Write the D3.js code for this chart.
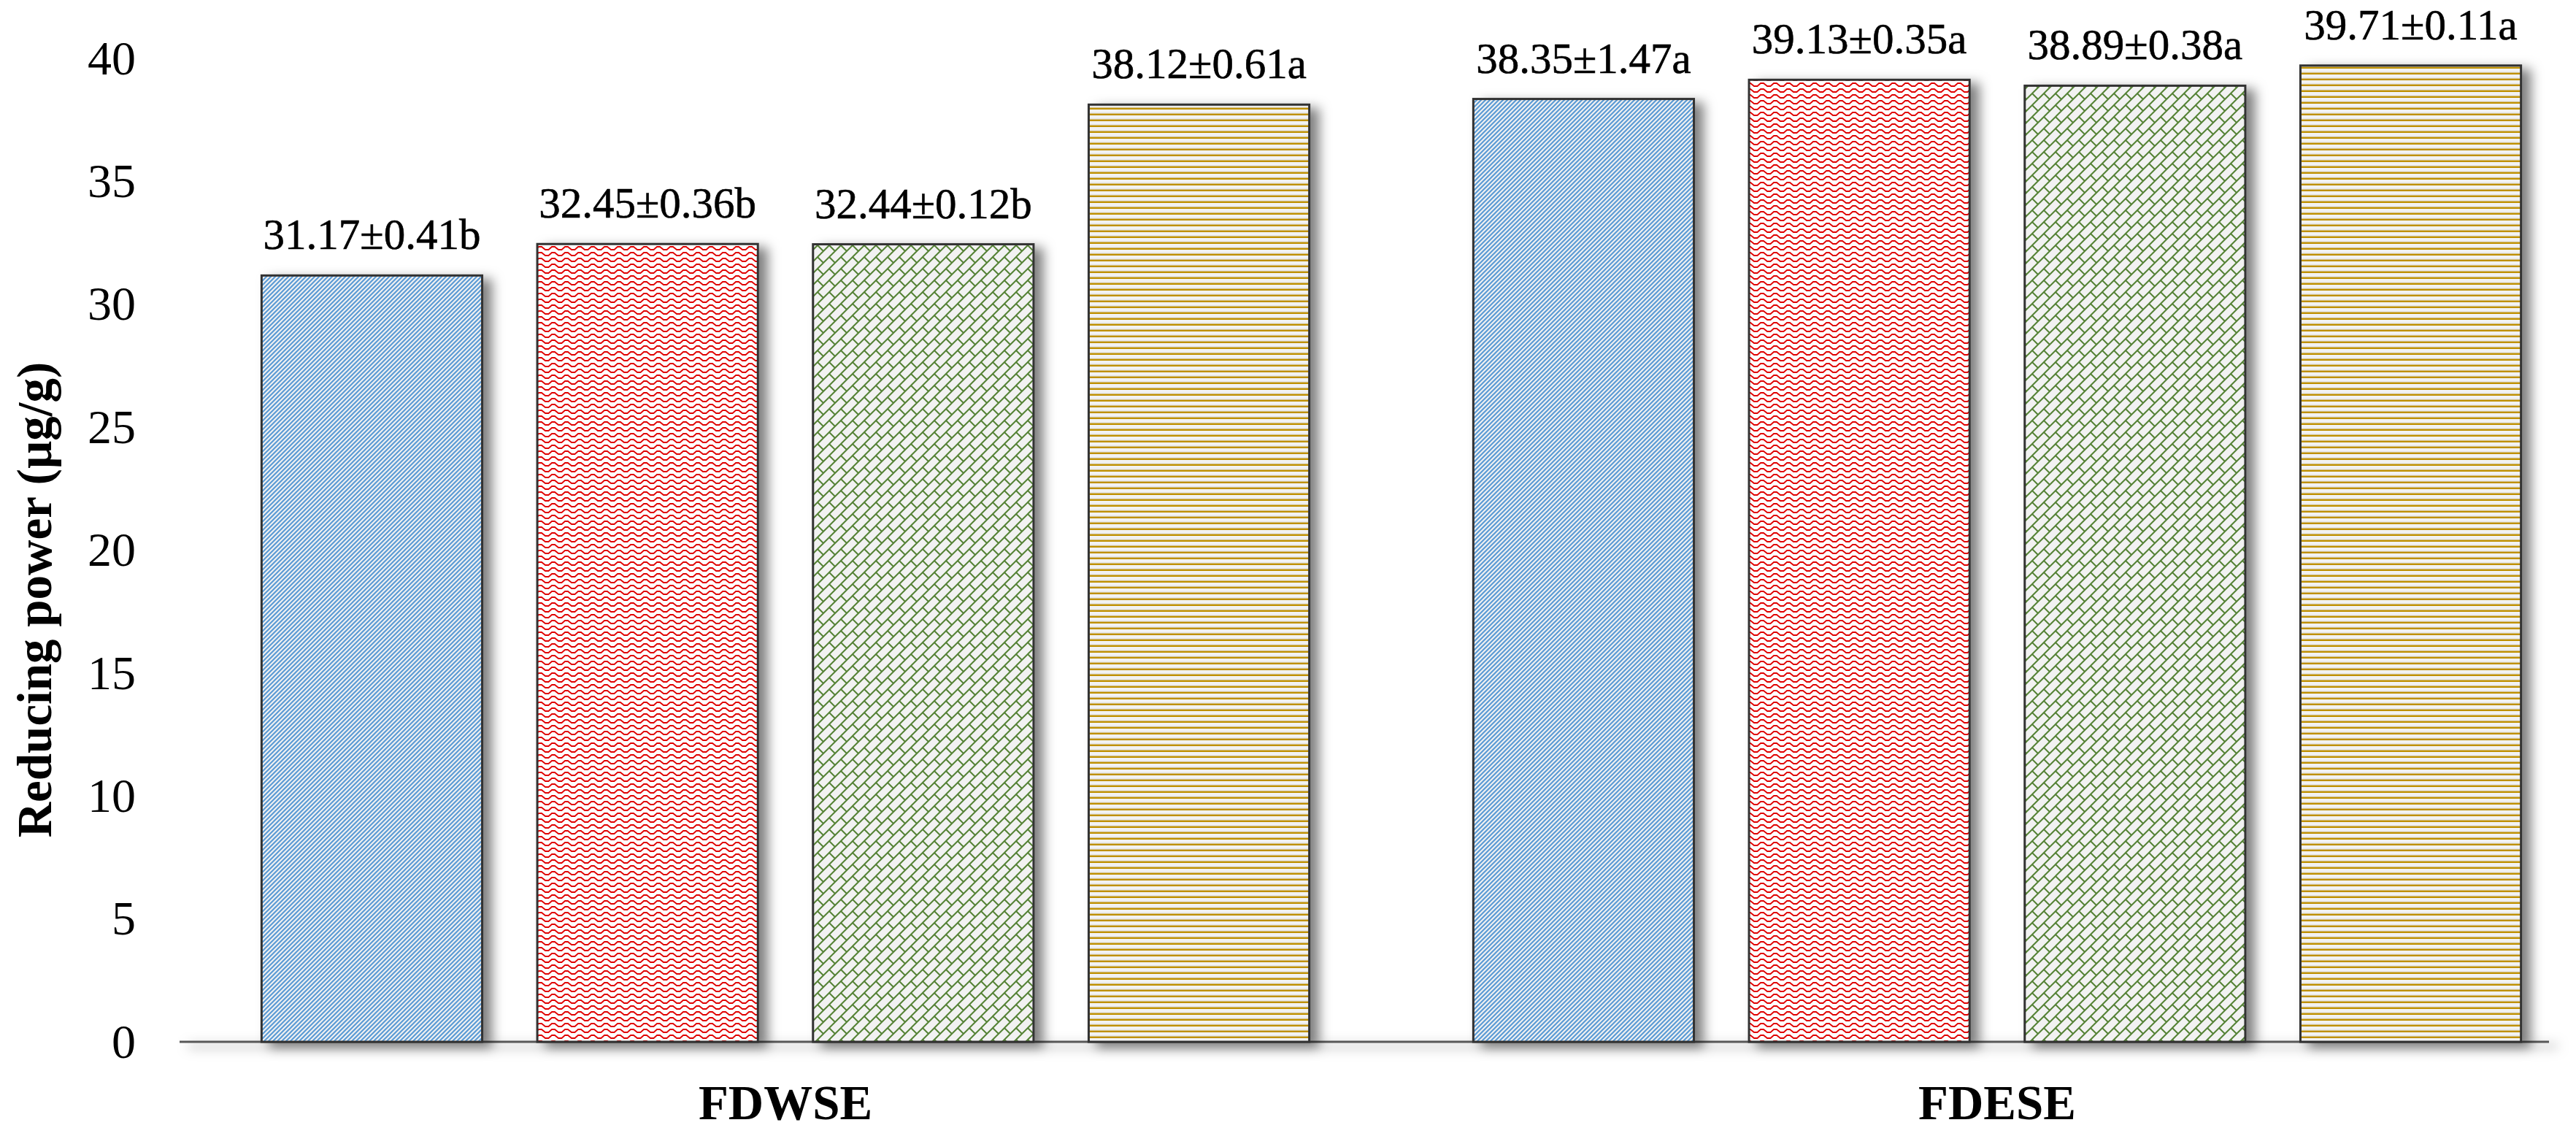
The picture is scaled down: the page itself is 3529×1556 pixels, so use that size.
<!DOCTYPE html>
<html>
<head>
<meta charset="utf-8">
<script src="https://cdn.jsdelivr.net/npm/d3@7"></script>
<style>
  body { margin: 0; background: #fff; }
  svg { display: block; }
  .tick text { font-family: "Liberation Serif", serif; fill: #000; }
</style>
</head>
<body>
<div id="chart"></div>
<script>
const groups = ["FDWSE", "FDESE"];
const series = ["T1", "T2", "T3", "T4"];
const means = [
  [31.17, 32.45, 32.44, 38.12],
  [38.35, 39.13, 38.89, 39.71],
];
const sds = [
  [0.41, 0.36, 0.12, 0.61],
  [1.47, 0.35, 0.38, 0.11],
];
const letters = [
  ["b", "b", "b", "a"],
  ["a", "a", "a", "a"],
];
const yTicks = [0, 5, 10, 15, 20, 25, 30, 35, 40];

const width = 3529;
const height = 1556;

const data = groups.flatMap((g, i) =>
  series.map((s, j) => ({
    group: g,
    series: s,
    value: means[i][j],
    label: `${means[i][j].toFixed(2)}±${sds[i][j].toFixed(2)}${letters[i][j]}`,
  }))
);

const svg = d3
  .select("#chart")
  .append("svg")
  .attr("width", width)
  .attr("height", height);

const defs = svg.append("defs");

// drop shadow for bars and for the baseline (baseline needs user space units, its bbox has no height)
function dropShadow(id, userSpace) {
  const f = defs.append("filter").attr("id", id);
  if (userSpace) {
    f.attr("filterUnits", "userSpaceOnUse")
      .attr("x", 0)
      .attr("y", 0)
      .attr("width", width)
      .attr("height", height);
  } else {
    f.attr("x", "-10%").attr("y", "-10%").attr("width", "130%").attr("height", "130%");
  }
  f.append("feDropShadow")
    .attr("dx", 12)
    .attr("dy", 6)
    .attr("stdDeviation", 8)
    .attr("flood-color", "#000")
    .attr("flood-opacity", 0.5);
}
dropShadow("shadow", false);
dropShadow("shadow-line", true);

// fill patterns, one per series
function pattern(id, w, h, bg) {
  const p = defs
    .append("pattern")
    .attr("id", id)
    .attr("patternUnits", "userSpaceOnUse")
    .attr("width", w)
    .attr("height", h);
  p.append("rect").attr("width", w).attr("height", h).attr("fill", bg);
  return p;
}

pattern("p-T1", 6, 6, "#f2f2f2")
  .append("path")
  .attr("d", "M-1,7L7,-1M-1,1L1,-1M5,7L7,5")
  .attr("stroke", "#5b9bd5")
  .attr("stroke-width", 2.2);

pattern("p-T2", 18, 8, "#fff")
  .append("path")
  .attr("d", "M-1,2H4L9,6H13.5L18,2H19")
  .attr("fill", "none")
  .attr("stroke", "#e00000")
  .attr("stroke-width", 1.8);

pattern("p-T3", 16, 16, "#f2f2f2")
  .append("path")
  .attr("d", "M0,16L16,0M-2,2L2,-2M14,18L18,14M8,8L0,0")
  .attr("fill", "none")
  .attr("stroke", "#548235")
  .attr("stroke-width", 2);

const gold = pattern("p-T4", 8, 8, "#f2f2f2");
gold
  .append("path")
  .attr("d", "M0,3H8")
  .attr("stroke", "#d9d9d9")
  .attr("stroke-width", 1);
gold
  .append("path")
  .attr("d", "M0,4.8H8")
  .attr("stroke", "#bf9000")
  .attr("stroke-width", 2.4);

const x0 = d3.scaleBand().domain(groups).range([246, 3566]);
const x1 = d3
  .scaleBand()
  .domain(series)
  .range([0, x0.bandwidth()])
  .paddingInner(0.2)
  .paddingOuter(0.2975);
const y = d3.scaleLinear().domain([0, 40]).range([1427, 80]);

// baseline
svg
  .append("line")
  .attr("x1", x0.range()[0])
  .attr("x2", width - 37)
  .attr("y1", y(0))
  .attr("y2", y(0))
  .attr("stroke", "#595959")
  .attr("stroke-width", 3)
  .attr("filter", "url(#shadow-line)");

svg
  .append("g")
  .selectAll("rect")
  .data(data)
  .join("rect")
  .attr("x", (d) => x0(d.group) + x1(d.series))
  .attr("y", (d) => y(d.value))
  .attr("width", x1.bandwidth())
  .attr("height", (d) => y(0) - y(d.value))
  .attr("fill", (d) => `url(#p-${d.series})`)
  .attr("stroke", "#333")
  .attr("stroke-width", 3)
  .attr("filter", "url(#shadow)");

svg
  .append("g")
  .selectAll("text")
  .data(data)
  .join("text")
  .attr("x", (d) => x0(d.group) + x1(d.series) + x1.bandwidth() / 2)
  .attr("y", (d) => y(d.value) - 36)
  .attr("text-anchor", "middle")
  .attr("font-family", "Liberation Serif, serif")
  .attr("font-size", 59)
  .attr("stroke", "#000")
  .attr("stroke-width", 0.6)
  .text((d) => d.label);

const yAxis = svg
  .append("g")
  .attr("transform", `translate(${x0.range()[0]},0)`)
  .call(d3.axisLeft(y).tickValues(yTicks).tickSize(0).tickPadding(60));
yAxis.select(".domain").remove();
yAxis.selectAll("text").attr("font-size", 66);

const xAxis = svg
  .append("g")
  .attr("transform", `translate(0,${y(0)})`)
  .call(d3.axisBottom(x0).tickSize(0));
xAxis.select(".domain").remove();
xAxis
  .selectAll("text")
  .attr("dy", 0)
  .attr("y", 106)
  .attr("font-size", 67)
  .attr("font-weight", "bold");

svg
  .append("text")
  .attr("transform", `translate(70,${(y(0) + y(40)) / 2 + 68}) rotate(-90)`)
  .attr("text-anchor", "middle")
  .attr("font-family", "Liberation Serif, serif")
  .attr("font-weight", "bold")
  .attr("font-size", 67)
  .text("Reducing power (µg/g)");
</script>
</body>
</html>
